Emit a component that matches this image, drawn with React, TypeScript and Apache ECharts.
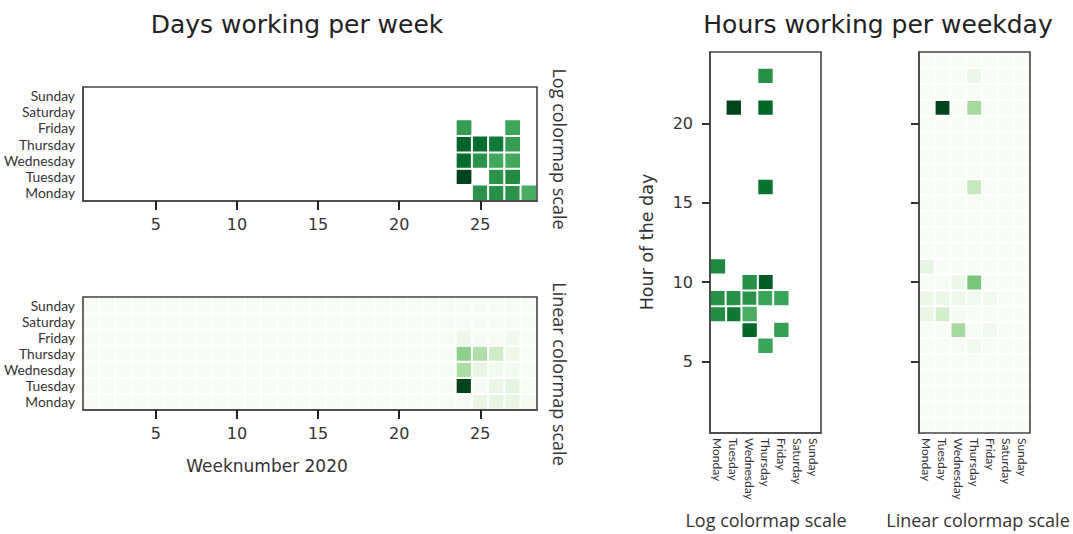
import React, { useEffect, useRef } from 'react';
import * as echarts from 'echarts';

const weeks = ['1','2','3','4','5','6','7','8','9','10','11','12','13','14','15','16','17','18','19','20','21','22','23','24','25','26','27','28'];
const weekdays = ['Monday','Tuesday','Wednesday','Thursday','Friday','Saturday','Sunday'];
const hoursOfDay = ['1','2','3','4','5','6','7','8','9','10','11','12','13','14','15','16','17','18','19','20','21','22','23','24'];
const weekTickLabels = ['5','10','15','20','25'];
const hourTickLabels = ['5','10','15','20'];

// [week, weekday, activity]
const weekdayActivity: [string, string, number][] = [
  ['24','Tuesday',100],['24','Wednesday',34],['24','Thursday',43],['24','Friday',7],
  ['25','Monday',10],['25','Wednesday',10],['25','Thursday',33],
  ['26','Monday',11],['26','Tuesday',10],['26','Wednesday',4],['26','Thursday',22],
  ['27','Monday',10],['27','Tuesday',13],['27','Wednesday',4],['27','Thursday',7],['27','Friday',5],
  ['28','Monday',3],
];

// [weekday, hour, activity]
const hourActivity: [string, string, number][] = [
  ['Tuesday','21',60],['Thursday','10',29],['Wednesday','7',22],['Thursday','21',22],
  ['Thursday','16',15],['Tuesday','8',12],['Monday','11',7],['Monday','8',6],
  ['Thursday','23',5],['Monday','9',5],['Tuesday','9',5],['Wednesday','9',4.5],
  ['Wednesday','10',5],['Friday','7',3],['Thursday','9',2.5],['Friday','9',2.5],
  ['Thursday','6',2.5],['Wednesday','8',1.2],
];

const greens = ['#f7fcf5','#e5f5e0','#c7e9c0','#a1d99b','#74c476','#41ab5d','#238b45','#006d2c','#00441b'];
const greensLog = ['#52b265','#3aa458','#20873f','#00692a','#00441b'];

const FONT = 'DejaVu Sans';
const DAYFONT = 'Lato';
const LABELFONT = 'Open Sans';

function buildLog(list: [string, string, number][], xs: string[], ys: string[]) {
  return list.map(([a, b, v]) => [xs.indexOf(a), ys.indexOf(b), v, Math.log10(v)]);
}
function buildLinear(list: [string, string, number][], xs: string[], ys: string[]) {
  const out: number[][] = [];
  xs.forEach((a, i) => {
    ys.forEach((b, j) => {
      const f = list.find((r) => r[0] === a && r[1] === b);
      out.push([i, j, f ? f[2] : 0]);
    });
  });
  return out;
}

export default function App() {
  const ref = useRef<HTMLDivElement>(null);
  useEffect(() => {
    if (!ref.current) return;
    const chart = echarts.init(ref.current, undefined, { renderer: 'svg' });

    const weekLog = buildLog(weekdayActivity, weeks, weekdays);
    const weekLin = buildLinear(weekdayActivity, weeks, weekdays);
    const hourLog = buildLog(hourActivity, weekdays, hoursOfDay);
    const hourLin = buildLinear(hourActivity, weekdays, hoursOfDay);
    const wVals = weekdayActivity.map((r) => r[2]);
    const hVals = hourActivity.map((r) => r[2]);

    const gridStyle = { show: true, z: 10, borderColor: '#444', borderWidth: 1.6, backgroundColor: 'transparent' };
    const weekIv = (_i: number, v: string) => weekTickLabels.includes(String(v));
    const weekTickIv = (i: number) => weekTickLabels.includes(weeks[i]);
    const hourIv = (_i: number, v: string) => hourTickLabels.includes(String(v));

    const weekX = (gi: number) => ({
      type: 'category', gridIndex: gi, data: weeks,
      axisLine: { show: true, lineStyle: { color: '#444', width: 1.5 } },
      axisTick: { show: true, interval: weekTickIv, alignWithLabel: true, length: 9, lineStyle: { color: '#222222', width: 2 } },
      axisLabel: { interval: weekIv, fontSize: 16, fontFamily: FONT, color: '#333', margin: 15 },
      splitLine: { show: false },
      z: 20,
    });
    const weekY = (gi: number) => ({
      type: 'category', gridIndex: gi, data: weekdays,
      axisLine: { show: true, lineStyle: { color: '#444', width: 1.5 } },
      axisTick: { show: false },
      axisLabel: { interval: 0, fontSize: 13.8, fontFamily: DAYFONT, color: '#333', margin: 8 },
      splitLine: { show: false },
    });
    const hourX = (gi: number) => ({
      type: 'category', gridIndex: gi, data: weekdays,
      axisLine: { show: true, lineStyle: { color: '#444', width: 1.5 } },
      axisTick: { show: false },
      axisLabel: { interval: 0, rotate: -90, fontSize: 12, fontFamily: DAYFONT, color: '#333', margin: 5 },
      splitLine: { show: false },
    });
    const hourY = (gi: number, labels: boolean) => ({
      type: 'category', gridIndex: gi, data: hoursOfDay,
      axisLine: { show: true, lineStyle: { color: '#444', width: 1.5 } },
      axisTick: { show: true, interval: hourIv, alignWithLabel: true, length: 8, lineStyle: { color: '#333333', width: 2 } },
      axisLabel: { show: labels, interval: hourIv, fontSize: 16, fontFamily: FONT, color: '#333', margin: 17 },
      splitLine: { show: false },
      z: 20,
    });

    const txt = (text: string, x: number, y: number, size: number, rotation = 0, family = FONT, fill = '#222') => ({
      type: 'text', x, y, rotation,
      style: { text, fontSize: size, fontFamily: family, fill, align: 'center', verticalAlign: 'middle', textAlign: 'center', textVerticalAlign: 'middle' },
    });

    const cellStyle = { borderColor: '#ffffff', borderWidth: 2 };

    chart.setOption({
      animation: false,
      backgroundColor: '#ffffff',
      grid: [
        { left: 83, top: 87, width: 454, height: 114, ...gridStyle },
        { left: 83, top: 297, width: 454, height: 113, ...gridStyle },
        { left: 710, top: 52, width: 111, height: 381, ...gridStyle },
        { left: 919, top: 52, width: 111, height: 381, ...gridStyle },
      ],
      xAxis: [weekX(0), weekX(1), hourX(2), hourX(3)],
      yAxis: [weekY(0), weekY(1), hourY(2, true), hourY(3, false)],
      visualMap: [
        { show: false, type: 'continuous', seriesIndex: 0, dimension: 3, min: Math.log10(Math.min(...wVals)) - 0.15, max: Math.log10(Math.max(...wVals)), inRange: { color: greensLog } },
        { show: false, type: 'continuous', seriesIndex: 1, dimension: 2, min: 0, max: Math.max(...wVals), inRange: { color: greens } },
        { show: false, type: 'continuous', seriesIndex: 2, dimension: 3, min: Math.log10(Math.min(...hVals)) - 0.15, max: Math.log10(Math.max(...hVals)), inRange: { color: greensLog } },
        { show: false, type: 'continuous', seriesIndex: 3, dimension: 2, min: 0, max: Math.max(...hVals), inRange: { color: greens } },
      ],
      series: [
        { type: 'heatmap', xAxisIndex: 0, yAxisIndex: 0, data: weekLog, itemStyle: cellStyle },
        { type: 'heatmap', xAxisIndex: 1, yAxisIndex: 1, data: weekLin, itemStyle: cellStyle },
        { type: 'heatmap', xAxisIndex: 2, yAxisIndex: 2, data: hourLog, itemStyle: cellStyle },
        { type: 'heatmap', xAxisIndex: 3, yAxisIndex: 3, data: hourLin, itemStyle: cellStyle },
      ],
      graphic: [
        txt('Days working per week', 297, 24, 25),
        txt('Hours working per weekday', 878, 24, 25),
        txt('Log colormap scale', 560, 149, 18, -Math.PI / 2, LABELFONT, '#333'),
        txt('Linear colormap scale', 560, 374, 18, -Math.PI / 2, LABELFONT, '#333'),
        txt('Weeknumber 2020', 267, 466, 17, 0, FONT, '#333'),
        txt('Hour of the day', 647, 242, 17.5, Math.PI / 2, FONT, '#333'),
        txt('Log colormap scale', 766, 520, 18, 0, LABELFONT, '#333'),
        txt('Linear colormap scale', 978, 520, 18, 0, LABELFONT, '#333'),
      ],
    });
    return () => chart.dispose();
  }, []);
  return <div ref={ref} style={{ position: 'fixed', left: 0, top: 0, width: 1073, height: 534 }} />;
}
